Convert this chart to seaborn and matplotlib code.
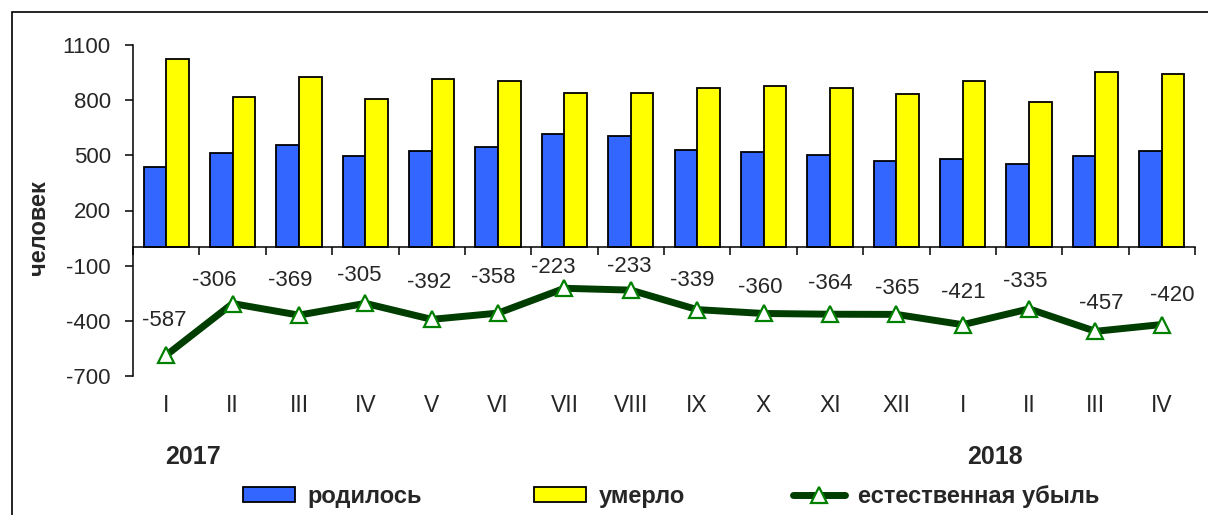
import numpy as np
import pandas as pd
import matplotlib
matplotlib.use("Agg")
import matplotlib.pyplot as plt
from matplotlib.patches import Patch, Rectangle
from matplotlib.lines import Line2D
import seaborn as sns

# ---- data ----
months = ["I", "II", "III", "IV", "V", "VI", "VII", "VIII", "IX", "X", "XI", "XII",
          "I", "II", "III", "IV"]
born = [438, 510, 555, 499, 523, 544, 617, 605, 527, 518, 504, 470, 481, 455, 496, 525]
died = [1025, 816, 924, 804, 915, 902, 840, 838, 866, 878, 868, 835, 902, 790, 953, 945]
decrease = [-587, -306, -369, -305, -392, -358, -223, -233, -339, -360, -364, -365,
            -421, -335, -457, -420]
years = ["2017", "2018"]
series_names = ["родилось", "умерло", "естественная убыль"]
yticks = [1100, 800, 500, 200, -100, -400, -700]

# label offsets (pixels, relative to marker) - layout only
lab_dx = [-2, -18, -9, -6, -3, -5, -11, -2, -5, -3, 0, 1, 1, -4, 6, 10]
lab_dy = [35, 23, 35, 28, 37, 36, 21, 24, 29, 26, 31, 26, 32, 27, 28, 29]

BLUE = "#3366FF"
YELLOW = "#FFFF00"
LINE = "#003d00"
MARK = "#008000"

sns.set_theme(style="white")
plt.rcParams["font.family"] = ["Liberation Sans", "DejaVu Sans"]

idx = list(range(len(months)))
df = pd.DataFrame({
    "idx": idx * 2,
    "value": born + died,
    "series": [series_names[0]] * len(idx) + [series_names[1]] * len(idx),
})

W, H = 1208, 515
fig = plt.figure(figsize=(W / 100, H / 100), dpi=100)
ax = fig.add_axes([133 / W, 1 - 376 / H, (1195 - 133) / W, (376 - 45) / H])

sns.barplot(data=df, x="idx", y="value", hue="series", palette=[BLUE, YELLOW],
            width=0.68, gap=0, edgecolor="black", linewidth=1.3, errorbar=None,
            ax=ax, legend=False, saturation=1)
sns.lineplot(x=idx, y=decrease, color=LINE, linewidth=5, marker="^", markersize=12,
             markerfacecolor="white", markeredgecolor=MARK, markeredgewidth=1.6,
             ax=ax, zorder=5)

ax.set_xlim(-0.5, len(idx) - 0.5)
ax.set_ylim(-700, 1100)
ax.set_yticks(yticks)
ax.set_yticklabels([str(v) for v in yticks], fontsize=16)
ax.set_xticks(np.arange(-0.5, len(idx), 1.0))
ax.set_xticklabels([])
ax.set_xlabel("")
ax.set_ylabel("")

for s in ["top", "right"]:
    ax.spines[s].set_visible(False)
ax.spines["bottom"].set_position(("data", 0))
for s in ["left", "bottom"]:
    ax.spines[s].set_color("black")
    ax.spines[s].set_linewidth(1.1)
ax.tick_params(axis="both", which="major", direction="out", length=6, width=1.1,
               color="black", left=True, bottom=True)
ax.tick_params(axis="y", pad=10)
ax.grid(False)

# category labels below plot
for i, m in enumerate(months):
    ax.annotate(m, xy=(i, 0), xycoords=("data", "axes fraction"),
                xytext=(0, -30), textcoords="offset pixels",
                ha="center", va="center", fontsize=16.5)

# year labels
for xpos, y in zip([0.4, 12.48], years):
    ax.annotate(y, xy=(xpos, 0), xycoords=("data", "axes fraction"),
                xytext=(0, -81), textcoords="offset pixels",
                ha="center", va="center", fontsize=18, fontweight="bold")

# data labels
for i, v in enumerate(decrease):
    ax.annotate(str(v), xy=(i, v), xytext=(lab_dx[i], lab_dy[i]),
                textcoords="offset pixels", ha="center", va="center", fontsize=16)

# y label
fig.text(39 / W, 1 - 228 / H, "человек", rotation=90, ha="center", va="center",
         fontsize=17, fontweight="bold")

# outer frame
fig.patches.append(Rectangle((12 / W, -0.1), 1.2, 1 - 12 / H + 0.1,
                             transform=fig.transFigure, fill=False,
                             edgecolor="black", linewidth=1.2))

# legend (three entries positioned separately)
handles = [
    Patch(facecolor=BLUE, edgecolor="black", linewidth=1.3),
    Patch(facecolor=YELLOW, edgecolor="black", linewidth=1.3),
    Line2D([0], [0], color=LINE, linewidth=5, marker="^", markersize=12,
           markerfacecolor="white", markeredgecolor=MARK, markeredgewidth=1.6),
]
xs = [243, 534, 793]
for h, lab, x0 in zip(handles, series_names, xs):
    fig.legend([h], [lab], loc="center left", bbox_to_anchor=(x0 / W, 1 - 496 / H),
               frameon=False, borderaxespad=0, borderpad=0,
               handlelength=2.2, handleheight=0.6, handletextpad=0.55,
               prop={"size": 17, "weight": "bold"})

fig.savefig("out.png", dpi=100)
